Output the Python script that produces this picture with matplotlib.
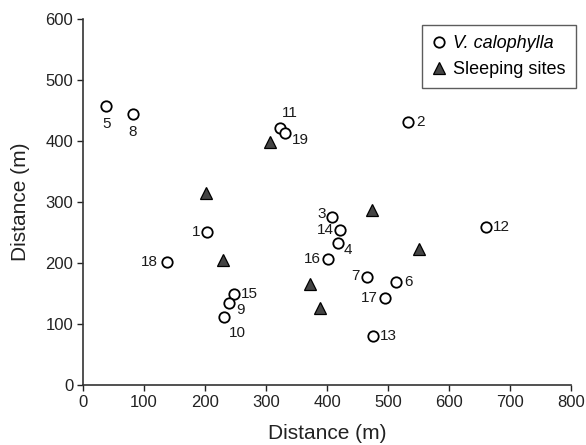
import matplotlib
matplotlib.use("Agg")
import matplotlib.pyplot as plt

plt.rcParams['font.family'] = ['Liberation Sans', 'DejaVu Sans']

# V. calophylla trees
tree_ids = ["5", "8", "11", "19", "2", "1", "18", "15", "9", "10",
            "3", "14", "4", "16", "7", "6", "17", "13", "12"]
tree_x = [38, 82, 323, 331, 533, 203, 137, 248, 240, 231,
          409, 422, 418, 401, 465, 513, 495, 476, 661]
tree_y = [457, 444, 421, 413, 431, 251, 202, 150, 135, 111,
          276, 254, 232, 206, 177, 169, 142, 80, 259]

# Sleeping sites
sleep_x = [306, 202, 229, 473, 551, 372, 388]
sleep_y = [398, 315, 205, 287, 223, 166, 126]

x_ticks = [0, 100, 200, 300, 400, 500, 600, 700, 800]
y_ticks = [0, 100, 200, 300, 400, 500, 600]

# label placement (offset in points, horizontal alignment)
label_style = {
    "5": ((0, -13), "center"), "8": ((0, -13), "center"),
    "11": ((7, 11), "center"), "19": ((5, -5), "left"),
    "2": ((6, 0), "left"), "1": ((-5, 0), "right"),
    "18": ((-6, 0), "right"), "15": ((5, 0), "left"),
    "9": ((5, -5), "left"), "10": ((10, -11), "center"),
    "3": ((-5, 2), "right"), "14": ((-5, 0), "right"),
    "4": ((4, -5), "left"), "16": ((-5, 0), "right"),
    "7": ((-5, 1), "right"), "6": ((6, 0), "left"),
    "17": ((-5, 0), "right"), "13": ((5, 0), "left"),
    "12": ((5, 0), "left"),
}

fig = plt.figure(figsize=(5.86, 4.45), dpi=100)
ax = fig.add_axes([83/586, 1-385/445, (571-83)/586, (385-19)/445])

ax.plot(tree_x, tree_y, linestyle="none", marker="o", markersize=7.5,
        markerfacecolor="white", markeredgecolor="black", markeredgewidth=1.3,
        label="V. calophylla", zorder=3)
ax.plot(sleep_x, sleep_y, linestyle="none", marker="^", markersize=8,
        markerfacecolor="#444444", markeredgecolor="black", markeredgewidth=0.9,
        label="Sleeping sites", zorder=3)

for tid, x, y in zip(tree_ids, tree_x, tree_y):
    off, ha = label_style[tid]
    ax.annotate(tid, (x, y), xytext=off, textcoords="offset points",
                ha=ha, va="center", fontsize=11, color="#1a1a1a")

ax.set_xlim(0, 800)
ax.set_ylim(0, 600)
ax.set_xticks(x_ticks)
ax.set_yticks(y_ticks)
ax.tick_params(labelsize=12, length=4, width=1, colors="#222222", pad=3)
for s in ["top", "right"]:
    ax.spines[s].set_visible(False)
for s in ["left", "bottom"]:
    ax.spines[s].set_linewidth(1.2)
    ax.spines[s].set_color("#333333")

ax.set_xlabel("Distance (m)", fontsize=15, color="#222222", labelpad=10)
ax.set_ylabel("Distance (m)", fontsize=15, color="#222222", labelpad=11)

leg = ax.legend(loc="upper right", bbox_to_anchor=(1.01, 0.983), fontsize=13,
                frameon=True, fancybox=False, edgecolor="#333333",
                handlelength=0.8, handletextpad=0.4, borderpad=0.55,
                labelspacing=0.5, borderaxespad=0)
leg.get_frame().set_linewidth(1.0)
leg.get_texts()[0].set_fontstyle("italic")

fig.savefig("out.png", dpi=100)
